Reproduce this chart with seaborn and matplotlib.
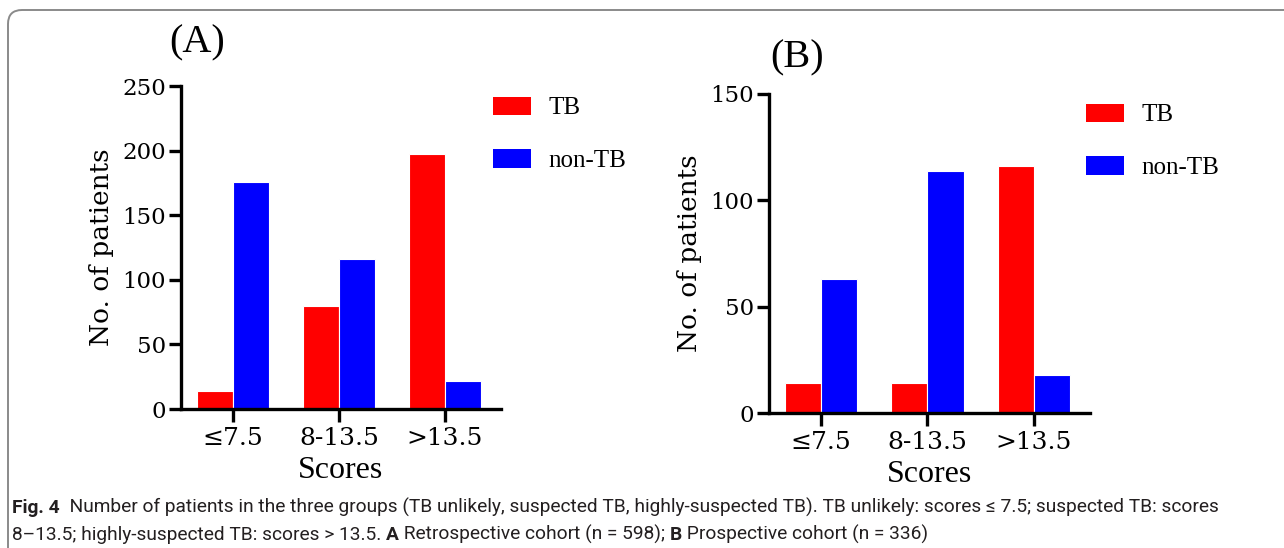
import pandas as pd
import matplotlib.pyplot as plt
import seaborn as sns
from matplotlib.patches import FancyBboxPatch

sns.set_style("ticks", {"axes.edgecolor": "black", "xtick.color": "black",
                        "ytick.color": "black", "text.color": "black",
                        "axes.labelcolor": "black"})

# data
groups = ["TB", "non-TB"]
score_bins = ["≤7.5", "8-13.5", ">13.5"]
retro_tb = [14, 80, 197]
retro_nontb = [176, 116, 22]
prosp_tb = [14, 14, 116]
prosp_nontb = [63, 114, 18]
colors = {"TB": "#ff0000", "non-TB": "#0000ff"}


def long_df(tb, nontb):
    return pd.DataFrame({
        "Scores": score_bins * 2,
        "Group": ["TB"] * 3 + ["non-TB"] * 3,
        "Patients": tb + nontb,
    })


serif = ["Liberation Serif", "DejaVu Serif"]
fig = plt.figure(figsize=(12.84, 5.48), dpi=100)

panels = [
    ("(A)", long_df(retro_tb, retro_nontb), [181/1284, 139/548, 320/1284, 323/548], 250,
     (197/1284, 1 - 43/548), (470/1284, 1 - 74/548)),
    ("(B)", long_df(prosp_tb, prosp_nontb), [769/1284, 135/548, 321/1284, 319/548], 150,
     (797/1284, 1 - 58/548), (1063/1284, 1 - 81/548)),
]

for title, df, rect, ymax, tpos, lpos in panels:
    ax = fig.add_axes(rect)
    sns.barplot(data=df, x="Scores", y="Patients", hue="Group", hue_order=groups,
                palette=colors, width=0.68, edgecolor="white", linewidth=0.8,
                saturation=1, ax=ax)
    ax.set_ylim(0, ymax)
    ax.set_xlim(-0.49, 2.53)
    ax.set_yticks(range(0, ymax + 1, 50))
    sns.despine(ax=ax)
    for s in ["left", "bottom"]:
        ax.spines[s].set_linewidth(2.4)
    ax.tick_params(axis="both", width=2.4, length=9)
    ax.tick_params(axis="y", pad=2, labelsize=16.5)
    ax.tick_params(axis="x", pad=4, labelsize=18)
    for lab in ax.get_xticklabels() + ax.get_yticklabels():
        lab.set_family(["DejaVu Serif"])
    ax.set_xlabel("Scores", family=serif, fontsize=23, labelpad=4)
    ax.set_ylabel("No. of patients", family=["DejaVu Serif"], fontsize=19, labelpad=6)
    ax.legend_.remove()
    handles = [plt.Rectangle((0, 0), 1, 1, fc=colors[g], ec="none") for g in groups]
    fig.legend(handles, groups, loc="upper left", bbox_to_anchor=lpos, frameon=False,
               prop={"family": serif, "size": 18}, handlelength=1.55, handleheight=0.75,
               handletextpad=0.7, labelspacing=1.2)
    fig.text(tpos[0], tpos[1], title, family=serif, fontsize=29, ha="center", va="center")

# rounded frame of the figure box
fig.add_artist(FancyBboxPatch((8, -40), 1400, 578, boxstyle="round,pad=0,rounding_size=14",
                              transform=None, fill=False, ec="#8a8a8a", lw=1.4))

# caption with bold parts
cap_font = ["Roboto", "DejaVu Sans"]
renderer = fig.canvas.get_renderer()
line1 = [("Fig. 4", True),
         ("  Number of patients in the three groups (TB unlikely, suspected TB, highly-suspected TB). "
          "TB unlikely: scores ≤ 7.5; suspected TB: scores", False)]
line2 = [("8–13.5; highly-suspected TB: scores > 13.5. ", False), ("A", True),
         (" Retrospective cohort (n = 598); ", False), ("B", True),
         (" Prospective cohort (n = 336)", False)]


def chain(x, y, parts, size, draw=True):
    x0 = x
    for s, bold in parts:
        t = fig.text(x, y, s, family=cap_font, fontsize=size, va="baseline",
                     fontweight="bold" if bold else "normal", color="#231f20")
        x += t.get_window_extent(renderer).width / fig.bbox.width
        if not draw:
            t.remove()
    return x - x0


# fit the first caption line to the width it has in the reference
w = chain(12/1284, 0, line1, 13, draw=False)
cap_size = 13 * (1206/1284) / w
chain(12/1284, 1 - 513/548, line1, cap_size)
chain(12/1284, 1 - 540/548, line2, cap_size)

fig.savefig("out.png", dpi=100)
